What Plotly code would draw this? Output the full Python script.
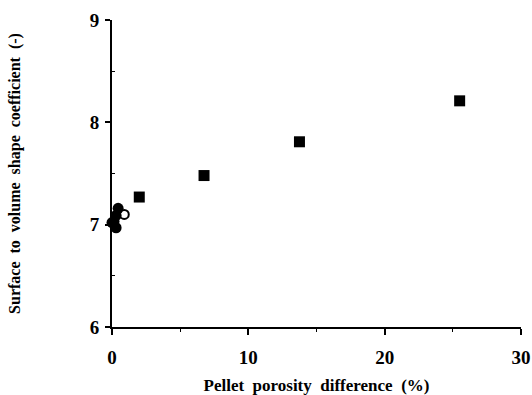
import plotly.graph_objects as go

# Squares (filled)
sq_x = [2.0, 6.75, 13.75, 25.5]
sq_y = [7.27, 7.48, 7.81, 8.21]
# Filled circles
fc_x = [0.0, 0.15, 0.3, 0.45, 0.3]
fc_y = [7.02, 7.03, 7.09, 7.16, 6.97]
# Open circles
oc_x = [0.9]
oc_y = [7.1]

x_ticks = [0, 10, 20, 30]
y_ticks = [6, 7, 8, 9]

font_family = "Liberation Serif, Times New Roman, serif"

fig = go.Figure()
fig.add_trace(go.Scatter(x=fc_x, y=fc_y, mode="markers",
                         marker=dict(symbol="circle", size=11, color="black"),
                         showlegend=False, cliponaxis=False))
fig.add_trace(go.Scatter(x=oc_x, y=oc_y, mode="markers",
                         marker=dict(symbol="circle-open", size=9, color="black",
                                     line=dict(width=2)),
                         showlegend=False, cliponaxis=False))
fig.add_trace(go.Scatter(x=sq_x, y=sq_y, mode="markers",
                         marker=dict(symbol="square", size=11, color="black"),
                         showlegend=False, cliponaxis=False))

fig.update_layout(
    width=532, height=395,
    margin=dict(l=112, r=11, t=20, b=68, autoexpand=False),
    paper_bgcolor="white", plot_bgcolor="white",
    font=dict(family=font_family, color="black", size=17),
)
fig.update_xaxes(
    range=[0, 30], tickvals=x_ticks, ticktext=[f"<b>{v}</b>" for v in x_ticks],
    automargin=False,
    showgrid=False, zeroline=False, showline=True, linecolor="black", linewidth=2,
    ticks="outside", ticklen=6, tickwidth=2, tickcolor="black",
    tickfont=dict(size=19, family=font_family), ticklabelstandoff=6,
    minor=dict(tickvals=[5, 15, 25], ticks="outside", ticklen=3, tickwidth=1, tickcolor="black"),
    title=dict(text="<b>Pellet  porosity  difference  (%)</b>", font=dict(size=17), standoff=22),
)
fig.update_yaxes(
    range=[6, 9], tickvals=y_ticks, ticktext=[f"<b>{v}</b>" for v in y_ticks],
    automargin=False,
    showgrid=False, zeroline=False, showline=True, linecolor="black", linewidth=2,
    ticks="outside", ticklen=5, tickwidth=2, tickcolor="black",
    tickfont=dict(size=19, family=font_family), ticklabelstandoff=2,
    minor=dict(tickvals=[6.5, 7.5, 8.5], ticks="inside", ticklen=3, tickwidth=1, tickcolor="black"),
    title=dict(text="<b>Surface  to  volume  shape  coefficient  (-)</b>", font=dict(size=16), standoff=65),
)

fig.write_html("out.html")
